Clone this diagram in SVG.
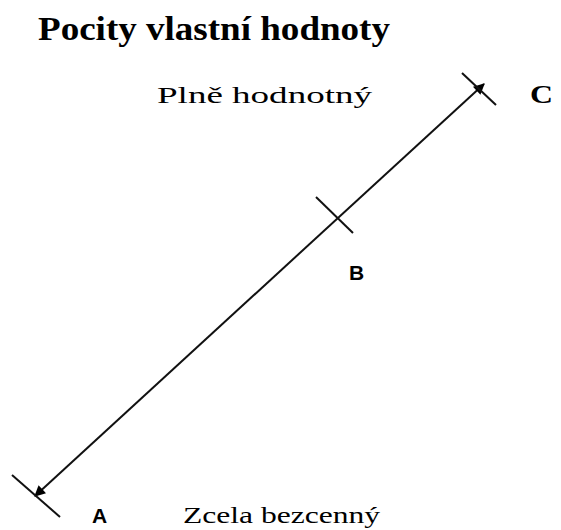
<svg xmlns="http://www.w3.org/2000/svg" width="561" height="530" viewBox="0 0 561 530">
<style>
.serif{font-family:'Liberation Serif','Times New Roman',serif;fill:#000}
.sans{font-family:'Liberation Sans',Arial,sans-serif;fill:#000;font-weight:bold}
.ln{stroke:#111;stroke-width:2;fill:none}
</style>
<defs>
<marker id="ah" viewBox="0 0 10 10" refX="9" refY="5" markerWidth="13" markerHeight="11" markerUnits="userSpaceOnUse" orient="auto-start-reverse">
<path d="M0,0 L10,5 L0,10 z" fill="#000"/>
</marker>
</defs>
<rect width="561" height="530" fill="#fff"/>
<text class="serif" x="38" y="40" font-size="33" font-weight="bold" textLength="352" lengthAdjust="spacingAndGlyphs">Pocity vlastní hodnoty</text>
<g id="connectors">
<line class="ln" x1="35" y1="496" x2="484" y2="84" marker-start="url(#ah)" marker-end="url(#ah)"/>
</g>
<g id="C">
<line class="ln" x1="462" y1="73" x2="496" y2="105"/>
<text class="serif" x="530" y="103" font-size="26" font-weight="bold" textLength="23" lengthAdjust="spacingAndGlyphs">C</text>
<text class="serif" x="157" y="103" font-size="24" textLength="215" lengthAdjust="spacingAndGlyphs">Plně hodnotný</text>
</g>
<g id="B">
<line class="ln" x1="316" y1="197" x2="353" y2="233"/>
<text class="sans" x="349" y="280" font-size="21">B</text>
</g>
<g id="A">
<line class="ln" x1="12" y1="475" x2="60" y2="517"/>
<text class="sans" x="92" y="523" font-size="21">A</text>
<text class="serif" x="183" y="523" font-size="24" textLength="197" lengthAdjust="spacingAndGlyphs">Zcela bezcenný</text>
</g>
</svg>
